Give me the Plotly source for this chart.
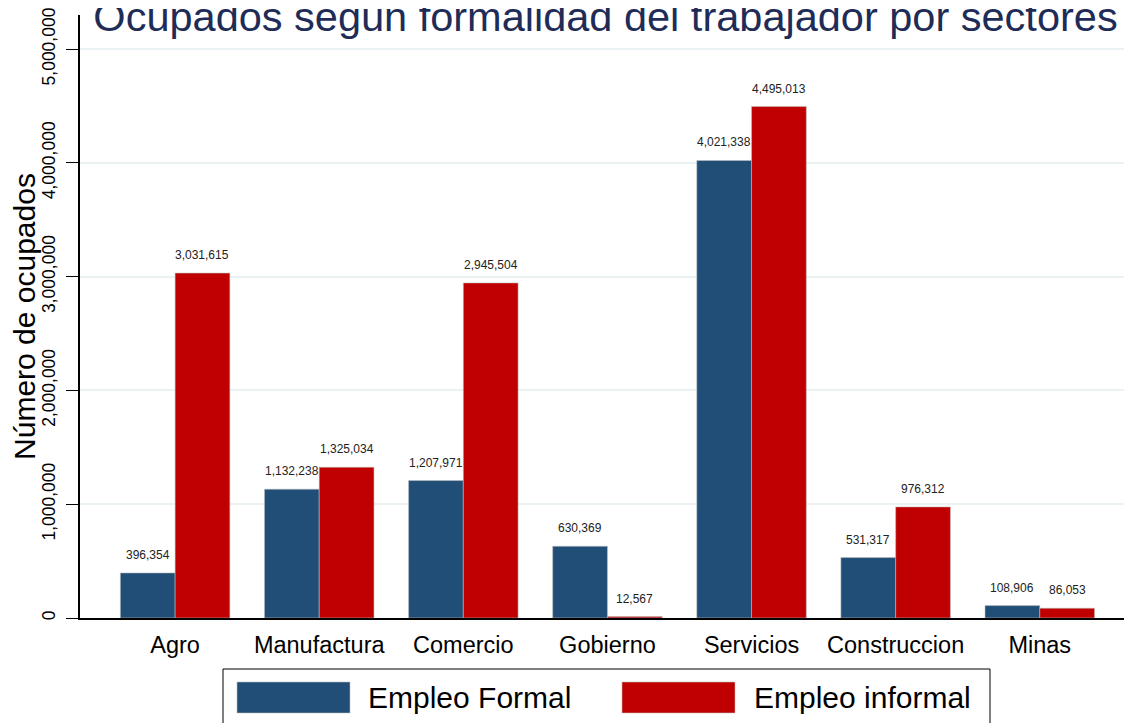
import plotly.graph_objects as go

# ---------------- data ----------------
sectores = ["Agro", "Manufactura", "Comercio", "Gobierno", "Servicios", "Construccion", "Minas"]
formal = [396354, 1132238, 1207971, 630369, 4021338, 531317, 108906]
informal = [3031615, 1325034, 2945504, 12567, 4495013, 976312, 86053]
series_names = ["Empleo Formal", "Empleo informal"]
y_ticks = [0, 1000000, 2000000, 3000000, 4000000, 5000000]
title_text = "Ocupados según formalidad del trabajador por sectores"
y_title = "Número de ocupados"

# ---------------- style ----------------
BLUE = "#214e77"
RED = "#c00000"
TITLE_COLOR = "#1e2c57"
FONT = "Arial, Liberation Sans, sans-serif"
W, H = 1132, 723
OFF = 8  # page body margin offset
# target plot area on screen: x 80..1132, y 15..618
ML = 80 - OFF
MR = OFF
MT = 15 - OFF
MB = H - (618 - OFF)
BARGAP = 0.24

fig = go.Figure()
for name, vals, col in [(series_names[0], formal, BLUE), (series_names[1], informal, RED)]:
    fig.add_trace(go.Bar(
        x=sectores, y=vals, name=name,
        marker=dict(color=col, line=dict(color="rgba(190,190,190,0.7)", width=0.8)),
        showlegend=False,
    ))

# value labels above bars
half = (1 - BARGAP) / 4.0
annots = []
for i in range(len(sectores)):
    for vals, off in [(formal, -half), (informal, half)]:
        annots.append(dict(
            x=i + off, y=vals[i], xref="x", yref="y",
            text=f"{vals[i]:,}", showarrow=False,
            yanchor="bottom", yshift=9,
            font=dict(family=FONT, size=12, color="#222222"),
        ))

# custom legend (paper coords from screen pixel geometry)
pw, ph = W - ML - MR, H - MT - MB
def sx(x):
    return (x - OFF - ML) / pw
def sy(y):
    return (H - MB - (y - OFF)) / ph

shapes = [
    dict(type="rect", xref="paper", yref="paper",
         x0=sx(223), x1=sx(990), y0=sy(669), y1=sy(745),
         line=dict(color="black", width=1), fillcolor="white", layer="above"),
    dict(type="rect", xref="paper", yref="paper",
         x0=sx(237), x1=sx(350), y0=sy(682), y1=sy(713),
         line=dict(color="rgba(190,190,190,0.7)", width=0.8), fillcolor=BLUE, layer="above"),
    dict(type="rect", xref="paper", yref="paper",
         x0=sx(622), x1=sx(735), y0=sy(682), y1=sy(713),
         line=dict(color="rgba(190,190,190,0.7)", width=0.8), fillcolor=RED, layer="above"),
]
for label, x0 in [(series_names[0], 366), (series_names[1], 752)]:
    annots.append(dict(
        x=sx(x0), y=sy(697), xref="paper", yref="paper",
        text=label, showarrow=False, xanchor="left", yanchor="middle",
        font=dict(family=FONT, size=30, color="black"),
    ))

fig.update_layout(
    width=W, height=H,
    margin=dict(l=ML, r=MR, t=MT, b=MB, autoexpand=False),
    paper_bgcolor="white", plot_bgcolor="white",
    barmode="group", bargap=BARGAP, bargroupgap=0,
    title=dict(text=title_text, x=(605.5 - OFF) / W, xanchor="center",
               y=1 - (31 - OFF) / H, yanchor="bottom",
               yref="container", pad=dict(t=0, b=0),
               font=dict(family=FONT, size=41.5, color=TITLE_COLOR)),
    font=dict(family=FONT),
    annotations=annots,
    shapes=shapes,
    showlegend=False,
)
fig.update_xaxes(
    type="category", range=[-0.66, 6.64],
    showline=True, linecolor="black", linewidth=1.5,
    ticks="", showgrid=False, automargin=False,
    tickfont=dict(family=FONT, size=23.5, color="black"),
    ticklabelstandoff=5,
)
fig.update_yaxes(
    range=[0, 5300000], tickvals=y_ticks, tickformat=",d",
    tickangle=-90, ticks="outside", ticklen=12, tickcolor="black", tickwidth=1,
    showline=True, linecolor="black", linewidth=1.5,
    showgrid=True, gridcolor="#eaf2f3", gridwidth=2, zeroline=False,
    automargin=False, ticklabeloverflow="allow",
    tickfont=dict(family=FONT, size=17.5, color="black"),
    ticklabelstandoff=4,
    title=dict(text=y_title, font=dict(family=FONT, size=30, color="black"), standoff=0),
)

fig.write_html("out.html")
